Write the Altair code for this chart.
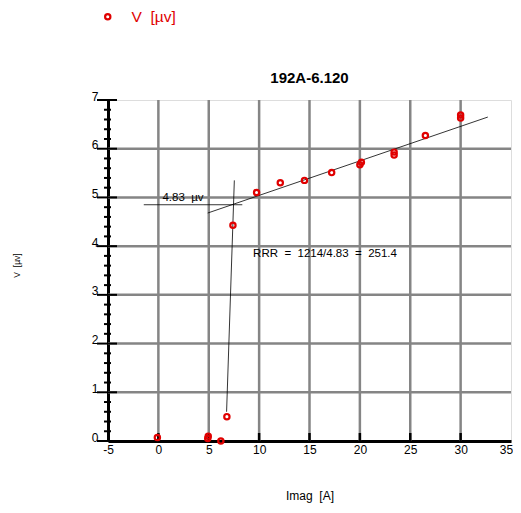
import altair as alt
import pandas as pd

# ---- data ----
imag_a = [-0.1, 4.9, 4.95, 6.2, 6.8, 7.4, 9.75, 12.1, 14.5, 17.2, 20.0, 20.15, 23.4, 23.4, 26.5, 30.0, 30.0]
volt_uv = [0.07, 0.05, 0.10, 0.00, 0.50, 4.43, 5.10, 5.30, 5.35, 5.51, 5.67, 5.72, 5.87, 5.93, 6.27, 6.63, 6.69]
NB = "\u00a0"
series_name = "V" + NB + NB + "[µv]"

fit_x = [4.9, 32.7]
fit_y = [4.68, 6.65]
steep_x = [6.77, 7.54]
steep_y = [0.6, 5.35]
level_x = [-1.45, 8.33]
level_y = [4.85, 4.85]

note_x = [0.4, 9.4]
note_y = [4.98, 3.84]
note_text = ["4.83" + NB + NB + "µv",
             "RRR" + NB + NB + "=" + NB + NB + "1214/4.83" + NB + NB + "=" + NB + NB + "251.4"]

x_ticks = [-5, 0, 5, 10, 15, 20, 25, 30, 35]
x_grid = [0, 5, 10, 15, 20, 25, 30]
y_ticks = [0, 1, 2, 3, 4, 5, 6, 7]
y_grid = [1, 2, 3, 4, 5, 6]
y_minor = [0.2, 0.4, 0.6, 0.8, 1.2, 1.4, 1.6, 1.8, 2.2, 2.4, 2.6, 2.8,
           3.2, 3.4, 3.6, 3.8, 4.2, 4.4, 4.6, 4.8, 5.2, 5.4, 5.6, 5.8,
           6.2, 6.4, 6.6, 6.8]

RED = "#e00000"
GRID = "#858585"
FONT = "Liberation Sans"
W, H = 403, 341

xs = alt.Scale(domain=[-5, 35], nice=False, zero=False)
ys = alt.Scale(domain=[0, 7], nice=False, zero=False)

pts = pd.DataFrame({"x": imag_a, "y": volt_uv, "s": [series_name] * len(imag_a)})

x_axis = alt.Axis(values=x_ticks, grid=False, ticks=False, tickSize=0, labelFontSize=12,
                  labelFont=FONT, labelColor="black", labelPadding=3, labelFlush=False,
                  labelOverlap=False, domainColor="black", domainWidth=3,
                  labelExpr="'' + datum.value",
                  labelOffset={"condition": {"test": "datum.value === 35", "value": -5}, "value": 0},
                  title="Imag" + NB + NB + "[A]", titleFont=FONT, titleFontSize=12,
                  titleFontWeight="normal", titleColor="black", titlePadding=35)
y_axis = alt.Axis(values=y_ticks, grid=False, ticks=False, tickSize=0, labelFontSize=12,
                  labelFont=FONT, labelColor="black", labelPadding=10, labelBaseline="alphabetic",
                  labelFlush=False, labelOverlap=False, domainColor="black", domainWidth=3,
                  title=series_name, titleFont=FONT, titleFontSize=8.5, titleFontWeight="normal",
                  titleColor="black", titlePadding=70, titleY=165)

X = lambda f: alt.X(f, scale=xs, axis=x_axis)
Y = lambda f: alt.Y(f, scale=ys, axis=y_axis)

gx = alt.Chart(pd.DataFrame({"v": x_grid})).mark_rule(color=GRID, strokeWidth=2.5).encode(
    x=X("v:Q"), y=alt.value(0), y2=alt.value(H))
gy = alt.Chart(pd.DataFrame({"v": y_grid})).mark_rule(color=GRID, strokeWidth=2.5).encode(
    y=Y("v:Q"), x=alt.value(0), x2=alt.value(W))

tx = alt.Chart(pd.DataFrame({"v": x_grid})).mark_rule(color="black", strokeWidth=2.5).encode(
    x=X("v:Q"), y=alt.value(H - 8), y2=alt.value(H))
ty = alt.Chart(pd.DataFrame({"v": y_ticks})).mark_rule(color="black", strokeWidth=2).encode(
    y=Y("v:Q"), x=alt.value(-11), x2=alt.value(9))
tm = alt.Chart(pd.DataFrame({"v": y_minor})).mark_rule(color="black", strokeWidth=2).encode(
    y=Y("v:Q"), x=alt.value(-4), x2=alt.value(3))


def seg(xv, yv):
    return alt.Chart(pd.DataFrame({"x": xv, "y": yv})).mark_line(color="black", strokeWidth=0.8).encode(
        x=X("x:Q"), y=Y("y:Q"))


notes = alt.Chart(pd.DataFrame({"x": note_x, "y": note_y, "t": note_text})).mark_text(
    align="left", baseline="middle", fontSize=11.5, font=FONT, color="black").encode(
    x=X("x:Q"), y=Y("y:Q"), text="t:N")

points = alt.Chart(pts).mark_point(shape="circle", filled=False, size=28, strokeWidth=2.2, opacity=1).encode(
    x=X("x:Q"),
    y=Y("y:Q"),
    color=alt.Color("s:N", scale=alt.Scale(range=[RED]),
                    legend=alt.Legend(title=None, orient="none", legendX=-8, legendY=-91,
                                      labelFontSize=15.5, labelFont=FONT, labelColor=RED,
                                      labelOffset=16, symbolStrokeWidth=2.2, symbolSize=28,
                                      symbolType="circle", padding=0)))

chart = alt.layer(gx, gy, tx, ty, tm, seg(fit_x, fit_y), seg(steep_x, steep_y),
                  seg(level_x, level_y), notes, points).properties(
    width=W, height=H,
    title=alt.TitleParams("192A-6.120", font=FONT, fontSize=15, fontWeight="bold", color="black",
                          anchor="middle", frame="group", baseline="alphabetic", offset=-89),
    autosize=alt.AutoSizeParams(type="none"),
    padding={"left": 100, "top": 92, "right": 2, "bottom": 64},
).configure_view(stroke="black", strokeWidth=3).configure(background="white")

chart.save("out.html", embed_options={"renderer": "svg", "actions": False})
